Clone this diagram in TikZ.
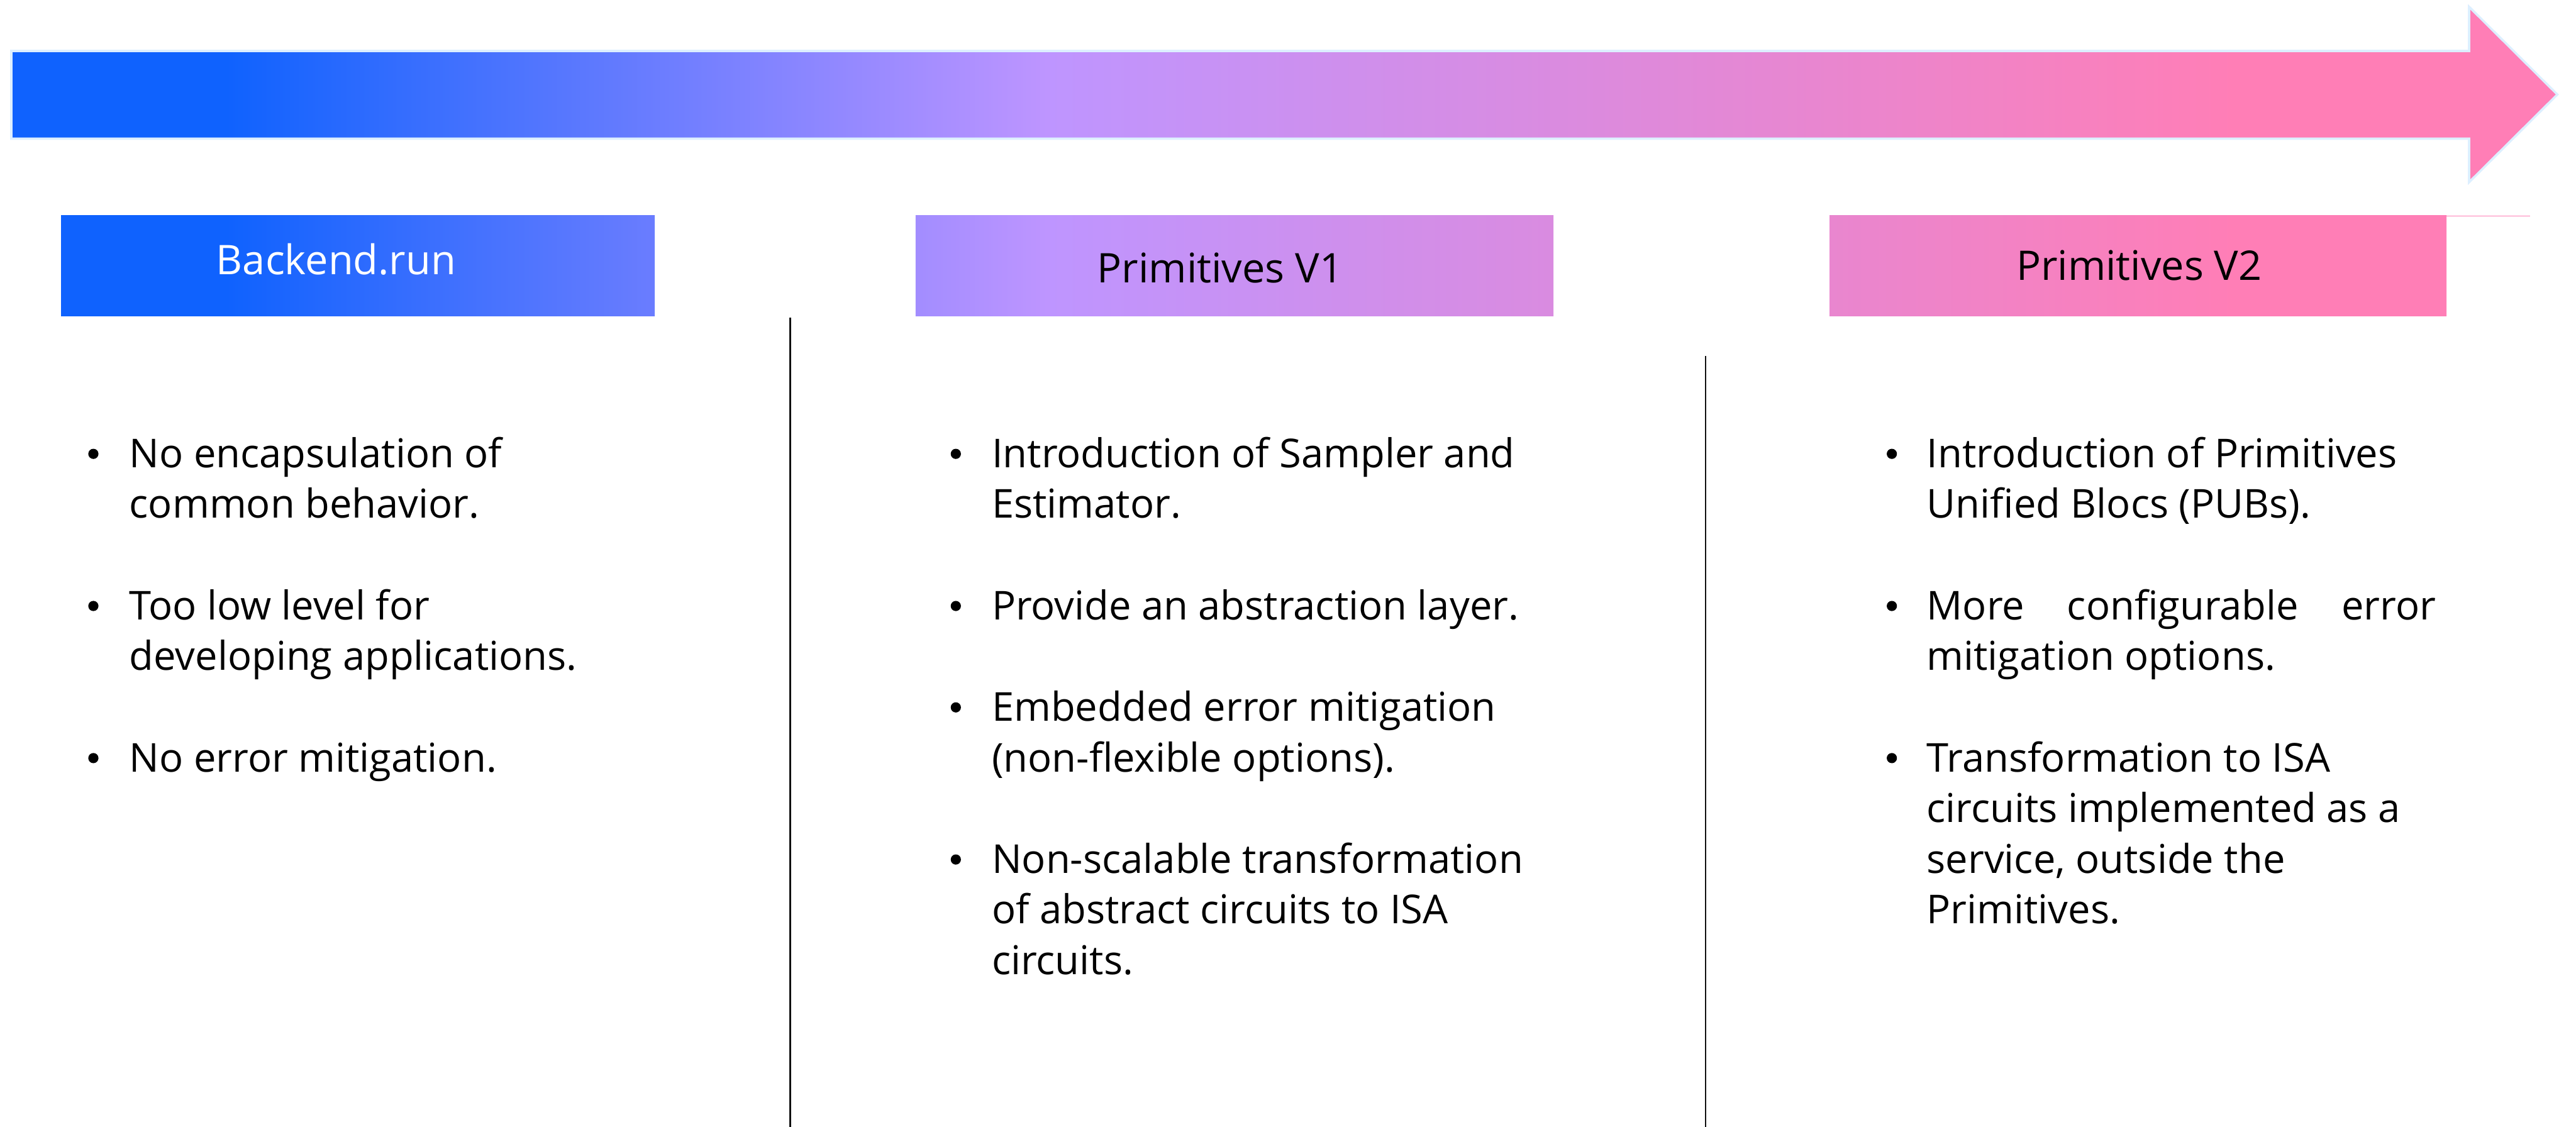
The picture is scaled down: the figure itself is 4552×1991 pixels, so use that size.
\documentclass[tikz,border=0pt]{standalone}
\usepackage{fontspec}
\setmainfont{Open Sans}
\definecolor{cblue}{HTML}{0F62FE}
\definecolor{clav}{HTML}{BE95FF}
\definecolor{cpink}{HTML}{FF7EB6}
\definecolor{cedge}{HTML}{DDEFFF}
\definecolor{cline}{HTML}{111111}
\pgfdeclarehorizontalshading{tl}{100bp}{color(0bp)=(cblue); color(29.39bp)=(cblue); color(45.32bp)=(clav); color(68.39bp)=(cpink); color(100bp)=(cpink)}
\newcommand{\bodyfont}{\fontsize{20pt}{24pt}\selectfont}
\tikzset{
  txt/.style={anchor=base west, inner sep=0pt, font=\bodyfont, text=black},
  bul/.style={circle, fill=black, inner sep=0pt, minimum size=0.18cm},
  hdr/.style={anchor=base, inner sep=0pt, font=\fontsize{20.5pt}{24pt}\selectfont},
  sep/.style={draw=cline, line width=0.03cm},
}
\begin{document}
\begin{tikzpicture}[x=0.01cm, y=-0.01cm]
\useasboundingbox (0,0) rectangle (4552,1991);
% timeline arrow
\begin{scope}
  \clip (20,90) -- (4363,90) -- (4363,12) -- (4519,167) -- (4363,322) -- (4363,245) -- (20,245) -- cycle;
  \shade[shading=tl] (0,0) rectangle (4552,340);
\end{scope}
\draw[cedge, line width=0.04cm, line join=miter] (20,90) -- (4363,90) -- (4363,12) -- (4519,167) -- (4363,322) -- (4363,245) -- (20,245) -- cycle;
% header boxes
\begin{scope}
  \clip (108,381) rectangle (1157,558);
  \shade[shading=tl] (0,381) rectangle (4552,558);
\end{scope}
\begin{scope}
  \clip (1618,381) rectangle (2745,558);
  \shade[shading=tl] (0,381) rectangle (4552,558);
\end{scope}
\begin{scope}
  \clip (3233,381) rectangle (4323,558);
  \shade[shading=tl] (0,381) rectangle (4552,558);
\end{scope}
\draw[cpink, line width=0.01cm] (4323,381.5) -- (4471,381.5);
\node[hdr, text=white] (h1) at (594,485) {Backend.run};
\node[hdr, text=black] (h2) at (2156,500) {Primitives V1};
\node[hdr, text=black] (h3) at (3780,495) {Primitives V2};
% separators
\draw[sep] (1396,561) -- (1396,1991);
\draw[sep] (3014,629) -- (3014,1991);
% column 1
\node[bul] (b11) at (165,802) {};
\node[txt] (a1) at (228,826) {No encapsulation of};
\node[txt] (a2) at (228,915.6) {common behavior.};
\node[bul] (b12) at (165,1070.8) {};
\node[txt] (a3) at (228,1094.8) {Too low level for};
\node[txt] (a4) at (228,1184.4) {developing applications.};
\node[bul] (b13) at (165,1339.6) {};
\node[txt] (a5) at (228,1363.6) {No error mitigation.};
% column 2
\node[bul] (b21) at (1689,802) {};
\node[txt] (m1) at (1752,826) {Introduction of Sampler and};
\node[txt] (m2) at (1752,915.6) {Estimator.};
\node[bul] (b22) at (1689,1070.8) {};
\node[txt] (m3) at (1752,1094.8) {Provide an abstraction layer.};
\node[bul] (b23) at (1689,1250) {};
\node[txt] (m4) at (1752,1274) {Embedded error mitigation};
\node[txt] (m5) at (1752,1363.6) {(non-flexible options).};
\node[bul] (b24) at (1689,1518.8) {};
\node[txt] (m6) at (1752,1542.8) {Non-scalable transformation};
\node[txt] (m7) at (1752,1632.4) {of abstract circuits to ISA};
\node[txt] (m8) at (1752,1722) {circuits.};
% column 3
\node[bul] (b31) at (3343,802) {};
\node[txt] (r1) at (3404,826) {Introduction of Primitives};
\node[txt] (r2) at (3404,915.6) {Unified Blocs (PUBs).};
\node[bul] (b32) at (3343,1070.8) {};
\node[txt] (r3) at (3404,1094.8) {\hbox to 8.99cm{More\hfill configurable\hfill error}};
\node[txt] (r4) at (3404,1184.4) {mitigation options.};
\node[bul] (b33) at (3343,1339.6) {};
\node[txt] (r5) at (3404,1363.6) {Transformation to ISA};
\node[txt] (r6) at (3404,1453.2) {circuits implemented as a};
\node[txt] (r7) at (3404,1542.8) {service, outside the};
\node[txt] (r8) at (3404,1632.4) {Primitives.};
\end{tikzpicture}
\end{document}
